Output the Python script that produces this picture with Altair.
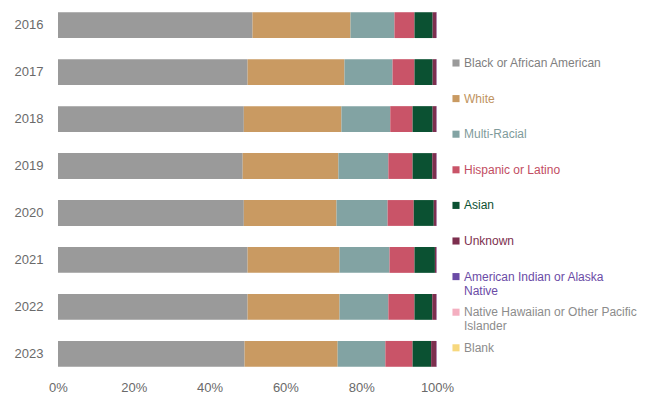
import altair as alt
import pandas as pd

years = ["2016", "2017", "2018", "2019", "2020", "2021", "2022", "2023"]
groups = [
    "Black or African American", "White", "Multi-Racial", "Hispanic or Latino",
    "Asian", "Unknown", "American Indian or Alaska Native",
    "Native Hawaiian or Other Pacific Islander", "Blank",
]
black = [51.4, 50.1, 49.1, 48.8, 49.1, 50.1, 50.1, 49.3]
white = [25.9, 25.6, 25.8, 25.3, 24.5, 24.3, 24.3, 24.6]
multi = [11.6, 12.7, 12.9, 13.2, 13.5, 13.2, 12.9, 12.6]
hispanic = [5.3, 5.8, 5.9, 6.4, 6.9, 6.6, 6.9, 7.2]
asian = [4.8, 4.8, 5.3, 5.2, 5.3, 5.4, 4.7, 4.9]
unknown = [1.0, 1.0, 1.0, 1.1, 0.7, 0.4, 1.1, 1.4]
am_indian = [0.1, 0.1, 0.1, 0.1, 0.1, 0.1, 0.1, 0.1]
hawaiian = [0.05, 0.05, 0.05, 0.05, 0.05, 0.05, 0.05, 0.05]
blank = [0.0, 0.0, 0.0, 0.0, 0.0, 0.0, 0.0, 0.0]

colors = ["#9a9a9a", "#c99a62", "#82a3a3", "#c95468", "#0b5132",
          "#7d2f4e", "#6b4ba6", "#f4afc0", "#f7d87e"]
label_colors = ["#7f7f7f", "#c0935e", "#7f9b9b", "#c24d62", "#0b5132",
                "#7d2f4e", "#6b4ba6", "#8c8c8c", "#8c8c8c"]

series = [black, white, multi, hispanic, asian, unknown, am_indian, hawaiian, blank]
rows = []
for gi, (g, vals) in enumerate(zip(groups, series)):
    for y, v in zip(years, vals):
        rows.append({"Year": y, "Group": g, "Share": v, "order": gi})
df = pd.DataFrame(rows)

color_expr = " : ".join(
    f"datum.label == '{g}' ? '{c}'" for g, c in zip(groups, label_colors)
) + " : '#888888'"

label_expr = (
    "datum.label == 'American Indian or Alaska Native' ? ['American Indian or Alaska', 'Native'] : "
    "datum.label == 'Native Hawaiian or Other Pacific Islander' ? ['Native Hawaiian or Other Pacific', 'Islander'] : "
    "datum.label"
)

chart = alt.Chart(df).mark_bar().encode(
    y=alt.Y("Year:N", sort=years, title=None,
            scale=alt.Scale(paddingInner=0.45, paddingOuter=0.09),
            axis=alt.Axis(domain=False, ticks=False, labelPadding=15,
                          labelFontSize=13, labelColor="#6a6a6a",
                          labelFont="Liberation Sans")),
    x=alt.X("Share:Q", stack="normalize", title=None,
            axis=alt.Axis(format=".0%", values=[0, 0.2, 0.4, 0.6, 0.8, 1.0],
                          domain=False, ticks=False, grid=False, labelPadding=10,
                          labelFlush=False,
                          labelFontSize=13, labelColor="#6a6a6a",
                          labelFont="Liberation Sans")),
    color=alt.Color("Group:N", sort=groups, title=None,
                    scale=alt.Scale(domain=groups, range=colors),
                    legend=alt.Legend(orient="none", legendX=392, legendY=49,
                                      symbolType="square", symbolSize=50,
                                      symbolStrokeWidth=0,
                                      labelFontSize=12, labelFont="Liberation Sans",
                                      labelExpr=label_expr,
                                      labelColor={"expr": color_expr},
                                      labelLimit=250, rowPadding=9.6,
                                      gridAlign="all",
                                      labelOffset=2)),
    order=alt.Order("order:Q", sort="ascending"),
).properties(
    width=379, height=363,
    padding={"left": 50, "top": 0, "right": 215, "bottom": 30},
    autosize=alt.AutoSizeParams(type="none"),
).configure_view(stroke=None)

chart.save("out.html", embed_options={"renderer": "svg", "actions": False})
